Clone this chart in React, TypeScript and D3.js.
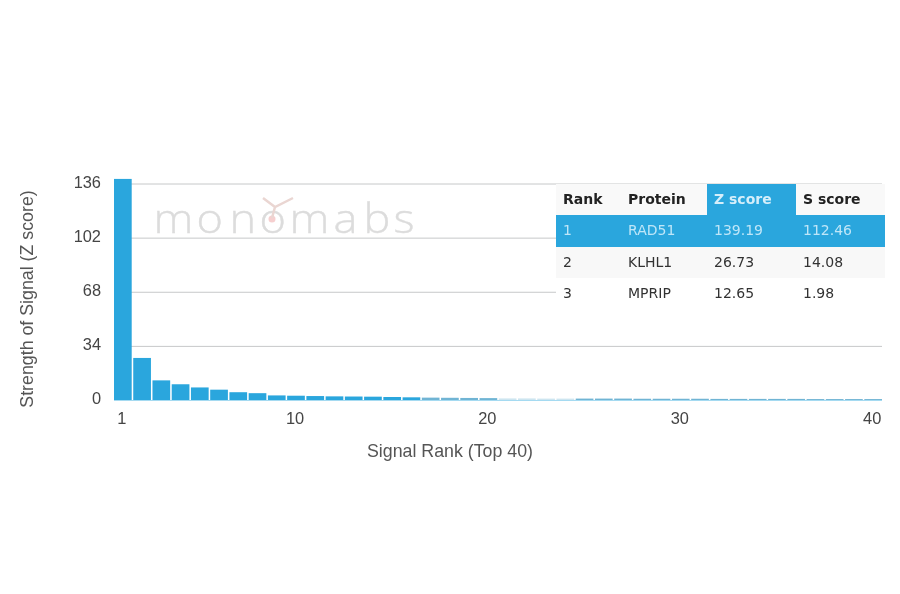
import React from "react"
import * as d3 from "d3"

const ranks = d3.range(1, 41)
const zScores = [
  139.19, 26.73, 12.65, 10.2, 8.2, 6.8, 5.2, 4.6, 3.2, 3.0,
  2.8, 2.6, 2.5, 2.4, 2.2, 2.0, 1.8, 1.7, 1.6, 1.5,
  1.3, 1.3, 1.2, 1.2, 1.2, 1.2, 1.2, 1.1, 1.1, 1.1,
  1.1, 1.0, 1.0, 1.0, 1.0, 1.0, 0.9, 0.9, 0.9, 0.9,
]
const yTicks = [0, 34, 68, 102, 136]
const xTicks = [1, 10, 20, 30, 40]

const tableHeader = ["Rank", "Protein", "Z score", "S score"]
const tableRows = [
  ["1", "RAD51", "139.19", "112.46"],
  ["2", "KLHL1", "26.73", "14.08"],
  ["3", "MPRIP", "12.65", "1.98"],
]

const BLUE = "#2aa6dd"
const SANS = "'Liberation Sans', Helvetica, Arial, sans-serif"
const TABLE_FONT = "'DejaVu Sans', sans-serif"

export default function App() {
  const x = d3.scaleBand<number>().domain(ranks).range([114, 882]).paddingInner(0.08).paddingOuter(0)
  const y = d3.scaleLinear().domain([0, 136]).range([400.5, 184])

  const colX = [563, 628, 714, 803]
  const rowY = [184, 215, 247, 278, 309]
  const tableLeft = 556
  const tableRight = 885
  const zLeft = 707
  const zRight = 796

  // the tail of the bars is washed out in the original
  const barFill = (r: number) => (r > 16 ? "#6fb4d4" : BLUE)
  const barOpacity = (r: number) => (r > 20 && r < 25 ? 0.35 : 1)

  return (
    <svg
      width={900}
      height={594}
      style={{ position: "absolute", left: 0, top: 0, background: "#fff" }}
      fontFamily={SANS}
    >
      <defs>
        <filter id="soft" x="0" y="0" width="100%" height="100%">
          <feGaussianBlur stdDeviation="0.6" />
        </filter>
      </defs>
      <g filter="url(#soft)">
        {/* grid */}
        {yTicks.slice(1).map(t => (
          <line key={t} x1={114} x2={882} y1={y(t)} y2={y(t)} stroke="#c6c8c9" strokeWidth={1} />
        ))}

        {/* watermark */}
        <text
          transform="scale(1.1,1)"
          x="139.5 178.6 208.6 235.9 263.2 303.2 330.5 357.7"
          y={233}
          fontFamily="'Open Sans', sans-serif"
          fontSize={41}
          fontWeight={300}
          fill="#dcdcdc"
          stroke="#dcdcdc"
          strokeWidth={0.4}
        >
          monomabs
        </text>
        <circle cx={272} cy={219} r={3.5} fill="#f6cfcf" />
        <path d="M263 198 L275 207 L293 198 M275 207 L272 218" fill="none" stroke="#ead6d2" strokeWidth={2.5} />

        {/* bars */}
        {ranks.map((r, i) => (
          <rect
            key={r}
            x={x(r)}
            y={y(zScores[i])}
            width={x.bandwidth()}
            height={y(0) - y(zScores[i])}
            fill={barFill(r)}
            opacity={barOpacity(r)}
          />
        ))}
        <line x1={114} x2={882} y1={400.5} y2={400.5} stroke="#a5daf1" strokeWidth={1} />

        {/* y axis */}
        {yTicks.map(t => (
          <text key={t} x={101} y={y(t) + 3.5} textAnchor="end" fontSize={16.4} fill="#444">
            {t}
          </text>
        ))}
        <text
          transform="translate(33,299) rotate(-90)"
          textAnchor="middle"
          fontSize={17.8}
          fill="#555"
        >
          Strength of Signal (Z score)
        </text>

        {/* x axis */}
        {xTicks.map(t => (
          <text key={t} x={x(t)! + x.bandwidth() / 2 - 1} y={424} textAnchor="middle" fontSize={16.4} fill="#444">
            {t}
          </text>
        ))}
        <text x={450} y={457} textAnchor="middle" fontSize={17.8} fill="#555">
          Signal Rank (Top 40)
        </text>

        {/* table */}
        <g fontFamily={TABLE_FONT} fontSize={14}>
          <rect x={tableLeft} y={rowY[0]} width={tableRight - tableLeft} height={rowY[4] - rowY[0]} fill="#fff" />
          <rect x={tableLeft} y={rowY[0]} width={tableRight - tableLeft} height={rowY[1] - rowY[0]} fill="#f9f9f9" />
          <rect x={zLeft} y={rowY[0]} width={zRight - zLeft} height={rowY[1] - rowY[0]} fill={BLUE} />
          <rect x={tableLeft} y={rowY[1]} width={tableRight - tableLeft} height={rowY[2] - rowY[1]} fill={BLUE} />
          <rect x={tableLeft} y={rowY[2]} width={tableRight - tableLeft} height={rowY[3] - rowY[2]} fill="#f8f8f8" />
          {tableHeader.map((h, i) => (
            <text key={h} x={colX[i]} y={204} fontWeight={700} fill={i === 2 ? "#d5eefa" : "#222"}>
              {h}
            </text>
          ))}
          {tableRows.map((row, ri) =>
            row.map((c, ci) => (
              <text key={ci} x={colX[ci]} y={235 + ri * 31.5} fill={ri === 0 ? "#bfe6f8" : "#333"}>
                {c}
              </text>
            ))
          )}
        </g>
      </g>
    </svg>
  )
}
